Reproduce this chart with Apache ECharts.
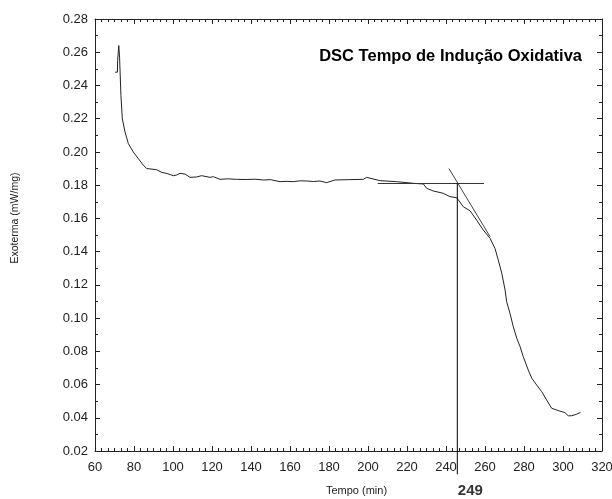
<!DOCTYPE html>
<html>
<head>
<meta charset="utf-8">
<script src="https://cdn.jsdelivr.net/npm/echarts@6/dist/echarts.min.js"></script>
<style>html,body{margin:0;padding:0;background:#fff}#c{width:612px;height:499px}</style>
</head>
<body>
<div id="c"></div>
<script>
// Time (min)
const tempo = [70.3,71.5,71.6,72.1,72.2,72.6,73.3,74.0,75.4,77.1,79.6,82.2,84.8,86.5,91.6,94.2,97,100.2,101.9,103.6,106.2,108.7,112,114.7,119,120.7,124.1,128,132.6,138,142,146.3,150,154.9,158,161.7,165,168.6,172,175.4,178.8,183,190,197.6,199.3,206.2,214.7,223.2,228.4,230.1,233.5,238.6,242,245.5,248.9,252.3,255.7,259.1,262.6,265.1,266.8,268.6,270.3,271.1,272.8,274.5,276.3,278,279.6,282.2,284,286.5,289.1,291.6,294.2,297.6,301,302.7,304.4,307,309];
// Exoterma (mW/mg)
const exoterma = [0.248,0.248,0.255,0.255,0.264,0.257,0.234,0.220,0.212,0.205,0.200,0.196,0.192,0.190,0.1893,0.1877,0.187,0.1857,0.1861,0.1871,0.1867,0.1847,0.1849,0.1857,0.1847,0.1851,0.1835,0.1838,0.1835,0.1834,0.1836,0.1831,0.1833,0.1821,0.1823,0.1821,0.1826,0.1825,0.1822,0.1825,0.1815,0.1831,0.1833,0.1835,0.1847,0.1827,0.1821,0.1811,0.1807,0.1781,0.1765,0.1751,0.1731,0.1724,0.1670,0.1646,0.159,0.153,0.148,0.142,0.135,0.127,0.1169,0.1099,0.1029,0.0948,0.0878,0.0828,0.0768,0.0687,0.0638,0.0597,0.0557,0.0507,0.0457,0.0443,0.0431,0.0412,0.0412,0.0421,0.0433];
// Construction lines
const baselineX = [205, 259.5];
const baselineY = [0.181, 0.181];
const tangentX = [241.5, 262.6];
const tangentY = [0.190, 0.149];
const onsetX = [245.8, 245.8];
const onsetY = [0.1813, 0.006];
const onsetLabel = '249';
const xTicks = {min: 60, max: 320, interval: 20};
const yTicks = {min: 0.02, max: 0.28, interval: 0.02};

const zip = (a, b) => a.map((v, i) => [v, b[i]]);
const FONT = "'Liberation Sans', Arial, sans-serif";
const axisCommon = {
  type: 'value',
  axisLine: {show: true, lineStyle: {color: '#222', width: 1}},
  axisTick: {show: true, inside: true, length: 5, lineStyle: {color: '#222'}},
  splitLine: {show: false},
};
const chart = echarts.init(document.getElementById('c'));
chart.setOption({
  animation: false,
  backgroundColor: '#fff',
  title: {
    text: 'DSC Tempo de Indução Oxidativa',
    right: 25, top: 43,
    textStyle: {fontFamily: FONT, fontSize: 16.5, fontWeight: 'bold', color: '#000'}
  },
  grid: {left: 95, top: 19, right: 10, bottom: 48, containLabel: false, outerBoundsMode: 'none'},
  xAxis: [
    Object.assign({}, axisCommon, {
      position: 'bottom', min: xTicks.min, max: xTicks.max, interval: xTicks.interval,
      minorTick: {show: true, splitNumber: 6, length: 3, lineStyle: {color: '#222'}},
      axisLabel: {fontFamily: FONT, fontSize: 13, color: '#222', margin: 10},
      name: 'Tempo (min)', nameLocation: 'middle', nameGap: 34,
      nameTextStyle: {fontFamily: FONT, fontSize: 11, color: '#222', padding: [0, 0, 0, 16]}
    }),
    Object.assign({}, axisCommon, {
      position: 'top', min: xTicks.min, max: xTicks.max, interval: xTicks.interval,
      minorTick: {show: true, splitNumber: 6, length: 3, lineStyle: {color: '#222'}},
      axisLabel: {show: false}
    })
  ],
  yAxis: [
    Object.assign({}, axisCommon, {
      position: 'left', min: yTicks.min, max: yTicks.max, interval: yTicks.interval,
      minorTick: {show: true, splitNumber: 2, length: 3, lineStyle: {color: '#222'}},
      axisLabel: {fontFamily: FONT, fontSize: 13, color: '#222', margin: 7, formatter: v => v.toFixed(2)},
      name: 'Exoterma (mW/mg)', nameLocation: 'middle', nameGap: 74,
      nameTextStyle: {fontFamily: FONT, fontSize: 10.5, color: '#222', padding: [0, 0, 0, 34]}
    }),
    Object.assign({}, axisCommon, {
      position: 'right', min: yTicks.min, max: yTicks.max, interval: yTicks.interval,
      minorTick: {show: true, splitNumber: 2, length: 3, lineStyle: {color: '#222'}},
      axisLabel: {show: false}
    })
  ],
  series: [
    {type: 'line', data: zip(tempo, exoterma), showSymbol: false, symbol: 'none',
      lineStyle: {color: '#222', width: 1}},
    {type: 'line', data: zip(baselineX, baselineY), symbol: 'none',
      lineStyle: {color: '#333', width: 1}},
    {type: 'line', data: zip(tangentX, tangentY), symbol: 'none',
      lineStyle: {color: '#444', width: 1}},
    {type: 'line', data: zip(onsetX, onsetY), clip: false,
      symbol: 'none', lineStyle: {color: '#000', width: 1}},
    {type: 'scatter', data: [[onsetX[1], onsetY[1]]], clip: false, symbolSize: 0,
      label: {show: true, position: 'bottom', distance: 9, offset: [13, 0], formatter: onsetLabel,
        fontFamily: FONT, fontSize: 15, fontWeight: 'bold', color: '#000'}}
  ]
});
</script>
</body>
</html>
